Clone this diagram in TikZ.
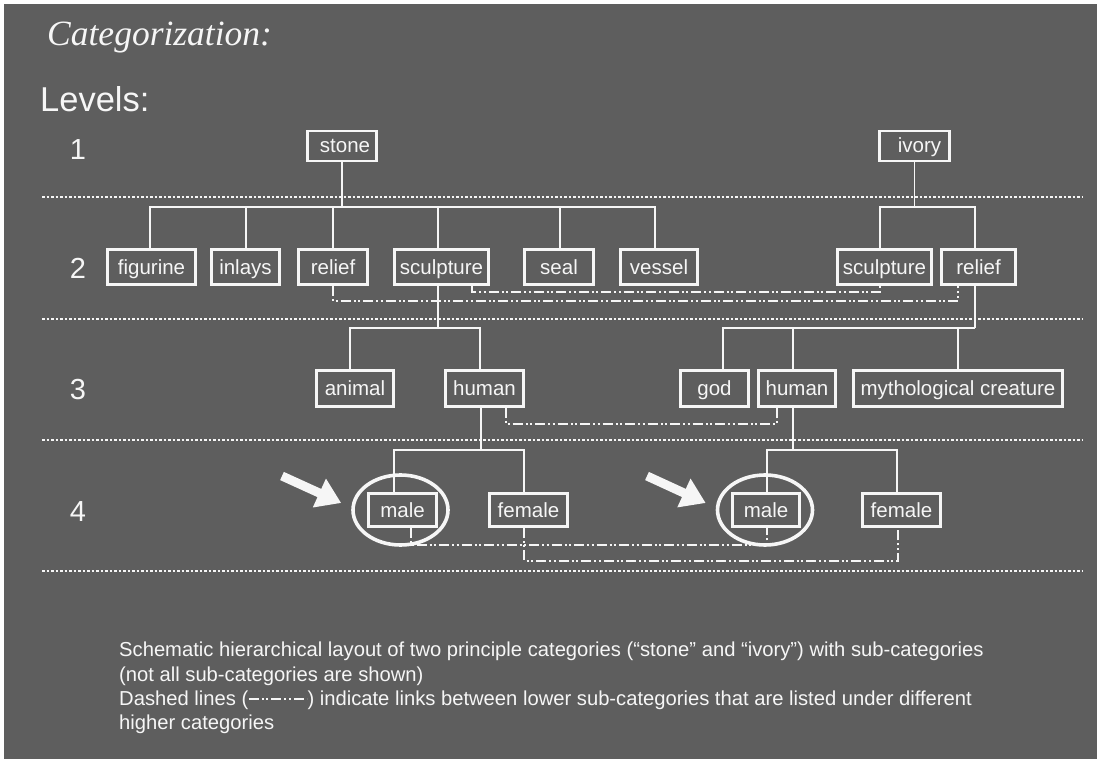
\documentclass[tikz,border=0pt]{standalone}
\usepackage{fontspec}
\setmainfont{Liberation Sans}
\newfontfamily\titlefont{Liberation Serif}
\usetikzlibrary{arrows.meta,shapes.geometric}
\definecolor{slide}{RGB}{94,94,94}
\definecolor{chalk}{RGB}{246,246,246}

\begin{document}
\begin{tikzpicture}[
  x=1pt,
  y=-1pt,
  catbox/.style={
    draw=chalk,
    line width=2.6pt,
    text=chalk,
    inner sep=0pt,
    text height=15pt,
    text depth=1pt,
    font=\fontsize{20.5}{24}\selectfont
  },
  branch/.style={draw=chalk, line width=1.6pt},
  link/.style={
    draw=chalk,
    line width=1.6pt,
    dash pattern=on 10pt off 3pt on 2pt off 2.5pt on 2pt off 3pt
  },
  separator/.style={draw=chalk, line width=1.6pt, dash pattern=on 2.5pt off 2pt},
  oval/.style={
    draw=chalk,
    ellipse,
    line width=3.6pt,
    inner sep=0pt,
    minimum width=95pt,
    minimum height=70pt
  },
  pointer/.style={draw=chalk, line width=9pt, -{Triangle[length=24pt,width=30pt]}},
  plain/.style={text=chalk, inner sep=0pt},
  levelnum/.style={plain, anchor=base, font=\fontsize{29}{34}\selectfont}
]
  \useasboundingbox (0,0) rectangle (1097,759);
  \fill[white] (0,0) rectangle (1097,759);
  \fill[slide] (4,4) rectangle (1097,759);

  \node[plain, anchor=base west, font=\titlefont\itshape\fontsize{35.5}{42}\selectfont]
    (Title) at (47,46) {Categorization:};
  \node[plain, anchor=base west, font=\fontsize{34.5}{40}\selectfont]
    (Levels) at (40,112) {Levels:};
  \foreach \n/\y in {1/160,2/278,3/399,4/521}
    \node[levelnum] (Level-\n) at (78,\y) {\n};

  \foreach \y in {197,319,440,571}
    \draw[separator] (42,\y) -- (1082,\y);

  \node[catbox, minimum width=69pt, minimum height=30pt] (Stone) at (342,146) {\hspace{6pt}stone};
  \node[catbox, minimum width=70pt, minimum height=30pt] (Ivory) at (914.5,146) {\hspace{10pt}ivory};

  \foreach \name/\x/\w in {figurine/151.5/88, inlays/245.5/68, relief/333/69,
                           sculpture/441.5/94, seal/559/69, vessel/659/77}
    \node[catbox, minimum width=\w pt, minimum height=35pt] (S-\name) at (\x,267) {\name};
  \node[catbox, minimum width=94pt, minimum height=35pt] (I-sculpture) at (884.5,267) {sculpture};
  \node[catbox, minimum width=74pt, minimum height=35pt] (I-relief) at (978.5,267) {relief};

  \foreach \name/\x/\w in {animal/355/77, human/484.5/78}
    \node[catbox, minimum width=\w pt, minimum height=36pt] (S-\name) at (\x,388.5) {\name};
  \foreach \name/\x/\w in {god/714.5/68, human/797/77}
    \node[catbox, minimum width=\w pt, minimum height=36pt] (I-\name) at (\x,388.5) {\name};
  \node[catbox, minimum width=209pt, minimum height=36pt] (I-myth) at (958,388.5) {mythological creature};

  \foreach \name/\x/\w in {male/402.5/68, female/528.5/78}
    \node[catbox, minimum width=\w pt, minimum height=33pt] (S-\name) at (\x,510) {\name};
  \foreach \name/\x/\w in {male/766/67, female/901.5/78}
    \node[catbox, minimum width=\w pt, minimum height=33pt] (I-\name) at (\x,510) {\name};

  \coordinate (Stone-j) at (342,207);
  \draw[branch] (Stone) -- (Stone-j);
  \foreach \name/\dx in {figurine/-1.5, inlays/0.5, relief/0, sculpture/-3.5, seal/1, vessel/-4}
    \draw[branch] ([xshift=\dx pt]S-\name.north) |- (Stone-j);
  \coordinate (Ivory-j) at (914.5,207);
  \draw[branch] (Ivory) -- (Ivory-j);
  \foreach \name/\dx in {sculpture/-4.5, relief/-3.5}
    \draw[branch] ([xshift=\dx pt]I-\name.north) |- (Ivory-j);

  \coordinate (SSculpt-j) at (438,328);
  \draw[branch] ([xshift=-3.5pt]S-sculpture.south) -- (SSculpt-j);
  \foreach \name/\dx in {animal/-5, human/-4.5}
    \draw[branch] ([xshift=\dx pt]S-\name.north) |- (SSculpt-j);
  \coordinate (IRelief-j) at (975,328);
  \draw[branch] ([xshift=-3.5pt]I-relief.south) -- (IRelief-j);
  \foreach \name/\dx in {god/8.5, human/-4, myth/0}
    \draw[branch] ([xshift=\dx pt]I-\name.north) |- (IRelief-j);

  \coordinate (SHuman-j) at (481,450);
  \draw[branch] ([xshift=-3.5pt]S-human.south) -- (SHuman-j);
  \foreach \name/\dx in {male/-8.5, female/-4.5}
    \draw[branch] ([xshift=\dx pt]S-\name.north) |- (SHuman-j);
  \coordinate (IHuman-j) at (793,450);
  \draw[branch] ([xshift=-4pt]I-human.south) -- (IHuman-j);
  \foreach \name/\dx in {male/1, female/-4.5}
    \draw[branch] ([xshift=\dx pt]I-\name.north) |- (IHuman-j);

  \draw[link] (S-relief.south) -- ++(0,15) -| ([xshift=-20.5pt]I-relief.south);
  \draw[link] ([xshift=30.5pt]S-sculpture.south) -- ++(0,6) -| ([xshift=-4.5pt]I-sculpture.south);
  \draw[link] ([xshift=21.5pt]S-human.south) -- ++(0,16) -| ([xshift=-20pt]I-human.south);
  \draw[link] ([xshift=8.5pt]S-male.south) -- ++(0,17) -| ([xshift=1pt]I-male.south);
  \draw[link] ([xshift=-4.5pt]S-female.south) -- ++(0,33) -| ([xshift=-3.5pt]I-female.south);

  \node[oval] (S-oval) at (400.5,510) {};
  \node[oval] (I-oval) at (765,510) {};
  \coordinate (S-tail) at (282,476);
  \coordinate (I-tail) at (647,476);
  \draw[pointer] (S-tail) -- ([xshift=-10pt,yshift=7pt]S-oval.west);
  \draw[pointer] (I-tail) -- ([xshift=-10pt,yshift=7pt]I-oval.west);

  \node[plain, anchor=north west, align=left, font=\fontsize{20.2}{24.3}\selectfont]
    (Caption) at (119,642) {Schematic hierarchical layout of two principle categories (“stone” and “ivory”) with sub-categories\\
    (not all sub-categories are shown)\\
    Dashed lines (\tikz[baseline=-0.6ex]\draw[link, line width=1.2pt] (0,0) -- (58,0);) indicate links between lower sub-categories that are listed under different\\
    higher categories};
\end{tikzpicture}
\end{document}
